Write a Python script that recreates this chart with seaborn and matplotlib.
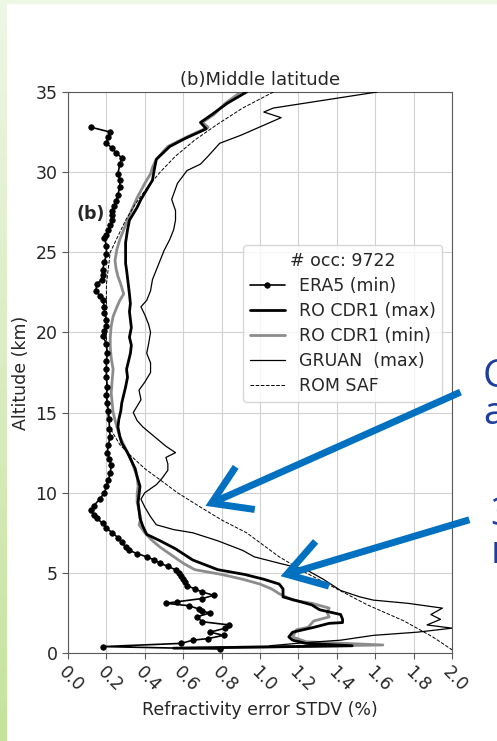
import numpy as np
import matplotlib
matplotlib.use('Agg')
import matplotlib.pyplot as plt
from matplotlib.patches import FancyArrowPatch, Rectangle
from matplotlib.colors import LinearSegmentedColormap
import seaborn as sns

# --- DATA (altitude in km, refractivity error STDV in %) ---
era5_alt = [32.8, 32.5, 32.2, 31.8, 31.5, 31.2, 30.9, 30.5, 29.9, 29.5, 29.1, 28.6,
            28.2, 27.9, 27.6, 27.3, 27.0, 26.7, 26.4, 26.1, 25.9, 25.4, 24.9, 24.4,
            23.9, 23.6, 23.3, 23.0, 22.6, 22.3, 22.0, 21.6, 21.2, 20.8, 20.4, 20.1,
            19.8, 19.3, 18.7, 18.2, 17.7, 17.2, 16.6, 16.1, 15.6, 15.1, 14.6, 14.0,
            13.5, 13.0, 12.5, 12.1, 11.7, 11.2, 10.8, 10.4, 10.0, 9.6, 9.2, 8.9,
            8.6, 8.4, 8.1, 7.8, 7.5, 7.2, 6.9, 6.6, 6.4, 6.2, 6.0, 5.8, 5.6, 5.4,
            5.2, 5.0, 4.8, 4.6, 4.4, 4.2, 4.0, 3.8, 3.6, 3.4, 3.2, 3.1, 2.95, 2.75,
            2.6, 2.5, 2.25, 1.95, 1.75, 1.55, 1.3, 1.1, 0.9, 0.8, 0.6, 0.4, 0.25]
era5_val = [0.12, 0.22, 0.21, 0.20, 0.23, 0.25, 0.28, 0.27, 0.26, 0.27, 0.27, 0.26,
            0.25, 0.24, 0.23, 0.23, 0.23, 0.22, 0.21, 0.20, 0.19, 0.20, 0.20, 0.19,
            0.18, 0.18, 0.175, 0.15, 0.145, 0.165, 0.18, 0.19, 0.19, 0.20, 0.20, 0.19,
            0.18, 0.20, 0.205, 0.20, 0.20, 0.20, 0.205, 0.20, 0.205, 0.21, 0.215, 0.215,
            0.22, 0.21, 0.205, 0.215, 0.225, 0.22, 0.21, 0.20, 0.19, 0.165, 0.135, 0.12,
            0.135, 0.15, 0.18, 0.20, 0.23, 0.26, 0.28, 0.30, 0.32, 0.36, 0.41, 0.45, 0.48, 0.52,
            0.56, 0.58, 0.59, 0.60, 0.61, 0.62, 0.66, 0.70, 0.76, 0.70, 0.57, 0.51, 0.63, 0.68,
            0.70, 0.74, 0.67, 0.70, 0.84, 0.82, 0.74, 0.81, 0.73, 0.65, 0.59, 0.18, 0.79]

cdr_max_alt = [35.0, 34.3, 33.6, 33.1, 32.7, 32.1, 31.6, 30.8, 30.2, 29.5, 29.1, 28.3,
               27.8, 27.0, 26.4, 25.6, 24.9, 24.3, 23.9, 23.4, 22.9, 22.4, 21.8, 21.3,
               20.8, 20.3, 19.7, 19.2, 18.7, 18.2, 17.7, 17.2, 16.6, 16.1, 15.6, 15.1,
               14.6, 14.1, 13.5, 13.1, 12.5, 12.0, 11.5, 11.0, 10.4, 9.9, 9.4, 8.9,
               8.4, 7.9, 7.4, 7.0, 6.5, 5.8, 5.2, 4.9, 4.6, 4.3, 4.0, 3.5, 3.2, 3.0,
               2.7, 2.4, 2.1, 1.9, 1.85, 1.6, 1.3, 1.0, 0.8, 0.6, 0.45, 0.3]
cdr_max_val = [0.93, 0.83, 0.75, 0.69, 0.72, 0.61, 0.53, 0.46, 0.45, 0.44, 0.42, 0.38,
               0.36, 0.32, 0.31, 0.30, 0.30, 0.30, 0.305, 0.31, 0.315, 0.32, 0.325, 0.32,
               0.325, 0.33, 0.32, 0.33, 0.325, 0.315, 0.305, 0.31, 0.30, 0.29, 0.28, 0.275,
               0.265, 0.26, 0.27, 0.28, 0.31, 0.33, 0.35, 0.36, 0.375, 0.37, 0.365, 0.37,
               0.375, 0.39, 0.41, 0.48, 0.56, 0.65, 0.78, 0.92, 1.02, 1.10, 1.12, 1.12, 1.21, 1.27,
               1.31, 1.42, 1.43, 1.43, 1.36, 1.28, 1.17, 1.15, 1.17, 1.24, 1.48, 0.55]

cdr_min_alt = [35.0, 34.3, 33.6, 33.1, 32.8, 32.2, 31.6, 30.8, 30.3, 29.9, 29.3, 28.4,
               27.6, 27.0, 26.4, 25.8, 25.2, 24.5, 24.0, 23.5, 23.0, 22.4, 22.0, 21.6,
               21.0, 20.4, 19.7, 19.1, 18.4, 17.7, 17.0, 16.2, 15.6, 15.0, 14.3, 13.5,
               13.0, 12.5, 12.0, 11.5, 11.0, 10.4, 9.9, 9.4, 8.9, 8.4, 8.0, 7.5, 7.0,
               6.6, 6.1, 5.6, 5.2, 4.9, 4.6, 4.3, 4.0, 3.7, 3.3, 3.1, 2.8, 2.5, 2.25,
               2.0, 1.6, 1.45, 1.0, 0.7, 0.5, 0.3]
cdr_min_val = [0.90, 0.82, 0.76, 0.70, 0.73, 0.62, 0.52, 0.46, 0.44, 0.43, 0.40, 0.36,
               0.33, 0.31, 0.29, 0.27, 0.255, 0.245, 0.25, 0.26, 0.275, 0.29, 0.27, 0.255,
               0.235, 0.225, 0.22, 0.22, 0.225, 0.235, 0.23, 0.225, 0.23, 0.235, 0.25, 0.27,
               0.29, 0.31, 0.33, 0.345, 0.36, 0.365, 0.36, 0.36, 0.37, 0.38, 0.37, 0.40, 0.44,
               0.48, 0.54, 0.60, 0.66, 0.80, 0.91, 1.00, 1.06, 1.10, 1.17, 1.27, 1.36, 1.35, 1.36,
               1.28, 1.25, 1.19, 1.17, 1.24, 1.64, 0.60]

gruan_alt = [35.0, 34.0, 33.75, 33.4, 32.3, 31.8, 31.0, 30.5, 30.1, 29.3, 28.3, 27.6,
             27.0, 26.4, 25.8, 25.1, 24.5, 23.9, 23.3, 22.6, 22.0, 21.6, 21.1, 20.5,
             20.0, 19.3, 18.7, 18.1, 17.5, 16.9, 16.4, 15.8, 15.4, 15.0, 14.5, 14.1,
             13.5, 12.9, 12.5, 12.2, 11.8, 11.4, 10.9, 10.5, 10.0, 9.6, 9.1, 8.5, 8.0,
             7.7, 7.5, 7.0, 6.4, 6.0, 5.6, 5.2, 4.6, 3.9, 3.5, 3.3, 3.1, 2.8, 2.4,
             2.1, 1.75, 1.55, 1.3, 1.1, 0.8, 0.7, 0.6, 0.45]
gruan_val = [1.61, 1.07, 1.02, 1.11, 0.90, 0.79, 0.73, 0.69, 0.62, 0.57, 0.54, 0.56,
             0.56, 0.55, 0.53, 0.50, 0.48, 0.46, 0.44, 0.43, 0.41, 0.38, 0.40, 0.42,
             0.43, 0.42, 0.41, 0.43, 0.43, 0.40, 0.37, 0.38, 0.36, 0.34, 0.36, 0.39,
             0.45, 0.51, 0.56, 0.51, 0.52, 0.52, 0.49, 0.46, 0.40, 0.38, 0.40, 0.43, 0.46,
             0.55, 0.65, 0.78, 0.91, 0.97, 1.10, 1.24, 1.33, 1.42, 1.52, 1.59, 1.77, 1.95, 1.89,
             1.94, 1.87, 2.00, 1.82, 1.59, 1.42, 1.30, 1.19, 1.05]

romsaf_alt = [35.0, 34.0, 33.0, 32.0, 31.0, 30.0, 29.0, 28.0, 27.0, 26.0, 25.0, 24.0,
              23.0, 20.0, 17.0, 15.0, 14.0, 13.0, 12.5, 11.5, 10.8, 10.0, 9.1, 8.3,
              7.5, 6.0, 5.0, 4.0, 3.0, 2.0, 1.0, 0.2]
romsaf_val = [1.07, 0.91, 0.78, 0.66, 0.56, 0.48, 0.41, 0.35, 0.30, 0.26, 0.22, 0.21,
              0.20, 0.20, 0.20, 0.205, 0.22, 0.27, 0.31, 0.40, 0.48, 0.57, 0.69, 0.80,
              0.93, 1.10, 1.24, 1.40, 1.56, 1.75, 1.90, 2.00]

x_ticks = [0.0, 0.2, 0.4, 0.6, 0.8, 1.0, 1.2, 1.4, 1.6, 1.8, 2.0]
y_ticks = [0, 5, 10, 15, 20, 25, 30, 35]

# --- STYLE ---
sns.set_style("whitegrid", {"axes.edgecolor": ".35", "grid.color": ".82",
                            "xtick.bottom": True, "ytick.left": True})
plt.rcParams['font.family'] = ['DejaVu Sans']
FS = 12.5

W, H = 497, 741
fig = plt.figure(figsize=(W / 100, H / 100), dpi=100)

# slide border (green strips)
bg = fig.add_axes([0, 0, 7 / W, 1])
cmap = LinearSegmentedColormap.from_list('g', ['#eef6e6', '#c5e39c'])
bg.imshow(np.linspace(0, 1, 200).reshape(-1, 1), cmap=cmap, aspect='auto')
bg.axis('off')
fig.patches.append(Rectangle((0, 1 - 3 / H), 1, 3 / H, transform=fig.transFigure,
                             color='#eef6e4', zorder=0))

ax = fig.add_axes([68 / W, 1 - 653 / H, 384 / W, 561 / H])

sns.lineplot(x=era5_val, y=era5_alt, sort=False, estimator=None, color='k', lw=1.2,
             marker='o', markersize=4, markeredgecolor='k', markeredgewidth=0.5,
             label='ERA5 (min)', ax=ax, zorder=5)
sns.lineplot(x=cdr_max_val, y=cdr_max_alt, sort=False, estimator=None, color='k', lw=2,
             label='RO CDR1 (max)', ax=ax, zorder=3)
sns.lineplot(x=cdr_min_val, y=cdr_min_alt, sort=False, estimator=None, color='#8c8c8c',
             lw=2, label='RO CDR1 (min)', ax=ax, zorder=2)
sns.lineplot(x=gruan_val, y=gruan_alt, sort=False, estimator=None, color='k', lw=0.9,
             label='GRUAN  (max)', ax=ax, zorder=4)
sns.lineplot(x=romsaf_val, y=romsaf_alt, sort=False, estimator=None, color='k', lw=0.7,
             linestyle='--', label='ROM SAF', ax=ax, zorder=4)

ax.set_xlim(0, 2.0)
ax.set_ylim(0, 35)
ax.set_xticks(x_ticks)
ax.set_yticks(y_ticks)
ax.set_xticklabels([f"{t:.1f}" for t in x_ticks], rotation=-45, ha='left',
                   va='top', rotation_mode='anchor')
ax.tick_params(labelsize=FS, length=4, color='.35')
ax.set_xlabel("Refractivity error STDV (%)", fontsize=FS)
ax.set_ylabel("Altitude (km)", fontsize=FS)
ax.set_title("(b)Middle latitude", fontsize=FS + 0.5, pad=5)
ax.text(0.045, 27.4, "(b)", fontsize=FS, fontweight='bold', va='center')

leg = ax.legend(title="# occ: 9722", loc='upper left', bbox_to_anchor=(0.456, 0.727),
                borderaxespad=0, fontsize=12.5, title_fontsize=12.5, framealpha=0.8,
                labelspacing=0.4, handlelength=2.0)

# --- blue arrows and clipped slide text ---
def fpx(x, y):
    return (x / W, 1 - y / H)

arrow_kw = dict(transform=fig.transFigure, color='#0070C0', lw=5,
                arrowstyle='->,head_length=1.9,head_width=1.2', mutation_scale=14,
                capstyle='butt', joinstyle='miter')
fig.patches.append(FancyArrowPatch(fpx(463, 391), fpx(203, 507), **arrow_kw))
fig.patches.append(FancyArrowPatch(fpx(472, 519), fpx(278, 577), **arrow_kw))

txt_kw = dict(fontsize=28, color='#1f3d9e', family='Open Sans', va='baseline')
fig.text(*fpx(483, 387), "C", **txt_kw)
fig.text(*fpx(483, 424), "a", **txt_kw)
fig.text(*fpx(490, 525), "3", **txt_kw)
fig.text(*fpx(491, 563), "r", **txt_kw)

fig.savefig("out.png", dpi=100)
